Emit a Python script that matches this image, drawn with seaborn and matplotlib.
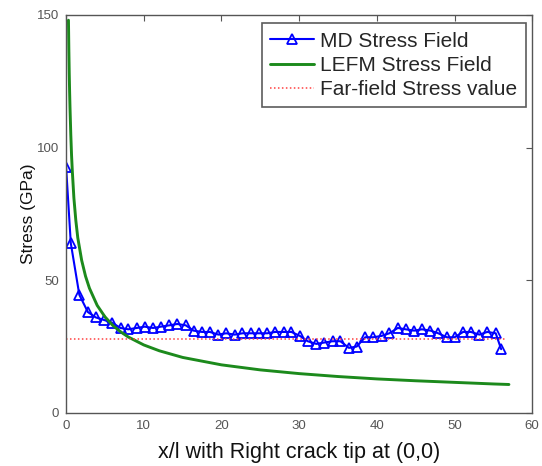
import matplotlib
matplotlib.use("Agg")
import matplotlib.pyplot as plt
import seaborn as sns
import pandas as pd

# MD stress profile ahead of the right crack tip
md_x = [0, 0.6, 1.7, 2.8, 3.8, 4.9, 5.9, 7.0, 8.0, 9.1, 10.1, 11.2, 12.2, 13.3,
        14.3, 15.4, 16.4, 17.5, 18.5, 19.6, 20.6, 21.7, 22.7, 23.8, 24.8, 25.9,
        26.9, 28.0, 29.0, 30.1, 31.1, 32.2, 33.2, 34.3, 35.3, 36.4, 37.4, 38.5,
        39.5, 40.6, 41.6, 42.7, 43.7, 44.8, 45.8, 46.9, 47.9, 49.0, 50.0, 51.1,
        52.1, 53.2, 54.2, 55.3, 56.0]
md_stress = [92.5, 64, 44.5, 38, 36, 35, 34, 32, 31.5, 32, 32.5, 32, 32.5, 33,
             33.5, 33, 31, 30.5, 30.5, 29.5, 30, 29.5, 30, 30, 30, 30,
             30.5, 30.5, 30.5, 29, 27, 26, 26.5, 27, 27, 24.5, 25, 28.5,
             28.5, 29, 30, 32, 31.5, 31, 31.5, 31, 30, 28.5, 28.5, 30.5,
             30.5, 29.5, 30.5, 30, 24]

# LEFM near-tip stress field
lefm_x = [0.3, 0.35, 0.4, 0.45, 0.5, 0.6, 0.7, 0.8, 1.0, 1.25, 1.5, 2.0, 2.5,
          3.0, 4.0, 5.0, 6.0, 7.0, 8.0, 10.0, 12.0, 15.0, 20.0, 25.0, 30.0,
          35.0, 40.0, 45.0, 50.0, 55.0, 57.0]
lefm_stress = [148, 137, 128, 121, 115, 105, 97, 91, 81, 72.5, 66, 57.5, 51.5,
               47, 40.5, 36.2, 33, 30.6, 28.6, 25.6, 23.4, 20.9, 18.1, 16.2,
               14.8, 13.7, 12.8, 12.1, 11.5, 10.9, 10.7]

# Far-field applied stress
far_x = [0, 56.6]
far_stress = [28, 28]

x_ticks = [0, 10, 20, 30, 40, 50, 60]
y_ticks = [0, 50, 100, 150]

md = pd.DataFrame({"x": md_x, "stress": md_stress})
lefm = pd.DataFrame({"x": lefm_x, "stress": lefm_stress})
far = pd.DataFrame({"x": far_x, "stress": far_stress})

sns.set_style("white")
plt.rcParams["font.family"] = ["Liberation Sans", "DejaVu Sans"]

fig = plt.figure(figsize=(5.42, 4.66), dpi=100)
ax = fig.add_axes([0.122, 0.114, 0.860, 0.854])

sns.lineplot(data=md, x="x", y="stress", ax=ax, color="#0000ff", lw=1.5,
             marker="^", markersize=7.5, markerfacecolor="none",
             markeredgecolor="#0000ff", markeredgewidth=1.3,
             label="MD Stress Field", sort=False)
sns.lineplot(data=lefm, x="x", y="stress", ax=ax, color="#1c8a1c", lw=2.1,
             label="LEFM Stress Field", sort=False)
sns.lineplot(data=far, x="x", y="stress", ax=ax, color="#ff4040", lw=1.1,
             linestyle=(0, (1, 1.6)), label="Far-field Stress value", sort=False)

ax.set_xlim(0, 60)
ax.set_ylim(0, 150)
ax.set_xticks(x_ticks)
ax.set_yticks(y_ticks)
ax.tick_params(direction="in", length=4, width=0.8, colors="#555555",
               top=True, right=True, labelcolor="#555555", labelsize=9.5,
               pad=5)
for s in ax.spines.values():
    s.set_color("#555555")
    s.set_linewidth(1.0)

ax.set_xlabel("x/l with Right crack tip at (0,0)", fontsize=15.5,
              color="#111111", labelpad=7)
ax.set_ylabel("Stress (GPa)", fontsize=12.5, color="#111111", labelpad=1)

leg = ax.legend(loc="upper right", bbox_to_anchor=(0.986, 0.979), fontsize=15,
                frameon=True, fancybox=False, handlelength=2.1,
                borderpad=0.4, labelspacing=0.25, handletextpad=0.3,
                borderaxespad=0.0)
leg.get_frame().set_edgecolor("#333333")
leg.get_frame().set_linewidth(1.2)

fig.savefig("out.png", dpi=100)
